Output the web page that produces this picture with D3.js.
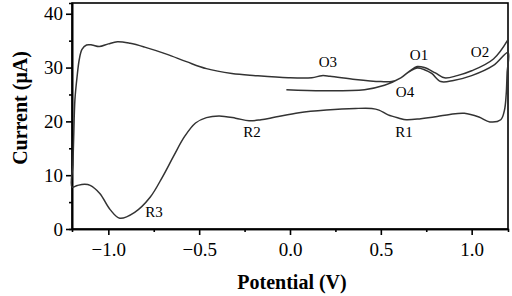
<!DOCTYPE html>
<html>
<head>
<meta charset="utf-8">
<script src="https://cdn.jsdelivr.net/npm/d3@7"></script>
<style>
  body { margin: 0; background: #fff; }
  text { font-family: "Liberation Serif", "Times New Roman", serif; }
  .axis path, .axis line { stroke: #000; stroke-width: 1.6; }
  .axis text { font-size: 19px; fill: #000; }
</style>
</head>
<body>
<div id="chart-area"></div>
<script>
// CV scan, in the order the trace is drawn
var potential = [-0.02, 0.18, 0.41, 0.52, 0.61, 0.66, 0.70, 0.74, 0.78, 0.83, 0.90, 1.00, 1.12, 1.20,
    1.195, 1.19, 1.18, 1.16, 1.10, 1.04, 0.96, 0.88, 0.81, 0.72, 0.64, 0.60, 0.54, 0.49, 0.45, 0.36, 0.20, 0.05,
    -0.08, -0.16, -0.225, -0.30, -0.39, -0.46, -0.52, -0.58, -0.64, -0.70, -0.77, -0.855, -0.937, -0.99, -1.047,
    -1.10, -1.13, -1.17, -1.20,
    -1.195, -1.19, -1.184, -1.173, -1.16, -1.145, -1.12, -1.09, -1.05, -1.00, -0.95, -0.88, -0.80, -0.68, -0.57,
    -0.46, -0.32, -0.19, -0.01, 0.12, 0.175, 0.22, 0.36, 0.50, 0.56, 0.61, 0.66, 0.70, 0.74, 0.80, 0.85, 0.92,
    1.00, 1.12, 1.20];
var current = [25.9, 25.7, 25.9, 26.7, 28.1, 29.3, 29.9, 29.6, 28.9, 27.4, 27.6, 28.5, 30.4, 32.8,
    29.0, 25.0, 22.0, 20.3, 19.9, 20.8, 21.5, 21.3, 20.9, 20.5, 20.3, 20.6, 21.2, 22.1, 22.4, 22.4, 22.1, 21.6,
    20.8, 20.3, 20.1, 20.6, 21.0, 20.7, 19.7, 17.2, 13.6, 9.8, 5.9, 3.1, 2.0, 3.6, 6.6,
    8.1, 8.3, 8.1, 7.8,
    12.0, 18.0, 24.0, 28.0, 31.5, 33.4, 34.2, 34.2, 33.9, 34.4, 34.8, 34.5, 33.8, 32.5, 31.1,
    29.8, 28.9, 28.5, 28.1, 28.1, 28.5, 28.4, 27.8, 27.4, 27.4, 28.1, 29.4, 30.2, 30.0, 29.0, 28.1, 28.5,
    29.4, 31.6, 35.2];

// peak labels
var peakNames = ["O1", "O2", "O3", "O4", "R1", "R2", "R3"];
var peakV = [0.710, 1.046, 0.209, 0.633, 0.627, -0.209, -0.749];
var peakI = [31.4, 32.0, 30.1, 24.5, 17.1, 17.1, 2.2];

var xMajor = [-1.0, -0.5, 0.0, 0.5, 1.0];
var xMinor = [-0.75, -0.25, 0.25, 0.75];
var yMajor = [0, 10, 20, 30, 40];
var yMinor = [5, 15, 25, 35];

var margin = {top: 3, right: 4, bottom: 67, left: 72},
    width = 512 - margin.left - margin.right,
    height = 296 - margin.top - margin.bottom;

var svg = d3.select("#chart-area").append("svg")
    .attr("width", 512)
    .attr("height", 296);

var g = svg.append("g")
    .attr("transform", "translate(" + margin.left + "," + margin.top + ")");

// Scales
var x = d3.scaleLinear().domain([-1.2, 1.2]).range([0, width]);
var y = d3.scaleLinear().domain([0, 42]).range([height, 0]);

// minor ticks first, majors with labels on top
g.append("g")
    .attr("class", "axis")
    .attr("transform", "translate(0," + height + ")")
    .call(d3.axisBottom(x).tickValues(xMinor).tickSize(3).tickFormat(""));
g.append("g")
    .attr("class", "axis")
    .call(d3.axisLeft(y).tickValues(yMinor).tickSize(3).tickFormat(""));

g.append("g")
    .attr("class", "axis")
    .attr("transform", "translate(0," + height + ")")
    .call(d3.axisBottom(x).tickValues(xMajor).tickSize(6).tickSizeOuter(0)
        .tickPadding(8).tickFormat(d3.format(".1f")));
g.append("g")
    .attr("class", "axis")
    .call(d3.axisLeft(y).tickValues(yMajor).tickSize(6).tickSizeOuter(0)
        .tickPadding(3));

// frame
g.append("rect")
    .attr("width", width)
    .attr("height", height)
    .attr("fill", "none")
    .attr("stroke", "#000")
    .attr("stroke-width", 1.6);

// trace
var line = d3.line()
    .x(function(d){ return x(potential[d]); })
    .y(function(d){ return y(current[d]); })
    .curve(d3.curveCatmullRom.alpha(0.5));

g.append("path")
    .datum(d3.range(potential.length))
    .attr("fill", "none")
    .attr("stroke", "#333")
    .attr("stroke-width", 1.5)
    .attr("d", line);

// peak labels
g.selectAll(".peak")
    .data(peakNames)
    .enter()
    .append("text")
    .attr("class", "peak")
    .attr("x", function(d, i){ return x(peakV[i]); })
    .attr("y", function(d, i){ return y(peakI[i]); })
    .attr("text-anchor", "middle")
    .style("font-size", "15px")
    .text(function(d){ return d; });

// axis titles
svg.append("text")
    .attr("x", margin.left + width / 2 + 2)
    .attr("y", 289)
    .attr("text-anchor", "middle")
    .style("font-size", "20px")
    .style("font-weight", "bold")
    .text("Potential (V)");

svg.append("text")
    .attr("transform", "translate(27,108) rotate(-90)")
    .attr("text-anchor", "middle")
    .style("font-size", "20px")
    .style("font-weight", "bold")
    .text("Current (μA)");
</script>
</body>
</html>
